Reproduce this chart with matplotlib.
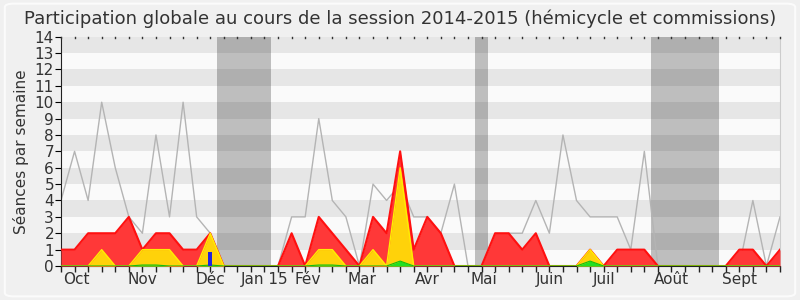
import matplotlib
matplotlib.use('Agg')
import matplotlib.pyplot as plt
from matplotlib.patches import FancyBboxPatch
import numpy as np

plt.rcParams['font.family'] = ['DejaVu Sans']

# weekly data, session 2014-2015
weeks = np.arange(54)
seances = [4, 7, 4, 10, 6, 3, 2, 8, 3, 10, 3, 2, 0, 0, 0, 0, 0, 3, 3, 9,
           4, 3, 0, 5, 4, 5, 3, 3, 2, 5, 0, 0, 0, 2, 2, 4, 2, 8, 4, 3,
           3, 3, 1, 7, 0, 0, 0, 0, 0, 0, 0, 4, 0, 3]
presences = [1, 1, 2, 2, 2, 3, 1, 2, 2, 1, 1, 2, 0, 0, 0, 0, 0, 2, 0, 3,
             2, 1, 0, 3, 2, 7, 1, 3, 2, 0, 0, 0, 2, 2, 1, 2, 0, 0, 0, 1,
             0, 1, 1, 1, 0, 0, 0, 0, 0, 0, 1, 1, 0, 1]
interventions = [0, 0, 0, 1, 0, 0, 1, 1, 1, 0, 0, 2, 0, 0, 0, 0, 0, 0, 0, 1,
                 1, 0, 0, 1, 0, 6, 0, 0, 0, 0, 0, 0, 0, 0, 0, 0, 0, 0, 0, 1,
                 0, 0, 0, 0, 0, 0, 0, 0, 0, 0, 0, 0, 0, 0]
questions = [0, 0, 0, 0, 0, 0, 0.06, 0.06, 0, 0, 0, 0.06, 0, 0, 0, 0, 0, 0, 0, 0.06,
             0.06, 0, 0, 0, 0, 0.3, 0, 0, 0, 0, 0, 0, 0, 0, 0, 0, 0, 0, 0, 0.3,
             0, 0, 0, 0, 0, 0, 0, 0, 0, 0, 0, 0, 0, 0]
rapport_week = [11]
rapport_val = [0.85]

vacances = [(11.5, 15.5), (30.5, 31.5), (43.5, 48.5)]

month_pos = [1.15, 6, 11, 15, 18.2, 22.2, 27, 31.2, 36, 40, 45, 50]
month_lbl = ['Oct', 'Nov', 'Déc', 'Jan 15', 'Fév', 'Mar', 'Avr', 'Mai',
             'Juin', 'Juil', 'Août', 'Sept']

fig = plt.figure(figsize=(8, 3), dpi=100, facecolor='#f0f0f0')
frame = FancyBboxPatch((0.006, 0.012), 0.988, 0.976, boxstyle='round,pad=0,rounding_size=0.012',
                       transform=fig.transFigure, facecolor='none', edgecolor='#fbfbfb',
                       lw=1.5, zorder=-10)
fig.patches.append(frame)

ax = fig.add_axes([0.07625, 0.1133, 0.89875, 0.7644])
ax.set_facecolor('#fafafa')

# stripes
for k in range(1, 14, 2):
    ax.axhspan(k, k + 1, color='#e6e6e6', lw=0, zorder=0)

# holidays
for a, b in vacances:
    ax.axvspan(a, b, color='black', alpha=0.24, lw=0, zorder=1)

ax.plot(weeks, seances, color='#b4b4b4', lw=1, zorder=2)

ax.fill_between(weeks, presences, color='#ff3838', lw=0, zorder=3)
ax.plot(weeks, presences, color='#ff1010', lw=1.5, zorder=3)
ax.fill_between(weeks, interventions, color='#ffd20a', lw=0, zorder=4)
ax.plot(weeks, interventions, color='#ffee00', lw=1, zorder=4)
ax.fill_between(weeks, questions, color='#22e022', lw=0, zorder=5)
ax.plot(weeks, questions, color='#10c010', lw=0.8, zorder=5)
ax.bar(rapport_week, rapport_val, width=0.3, color='#2222dd', zorder=6)

ax.set_xlim(0, 53)
ax.set_ylim(0, 14)
ax.set_yticks(range(15))
ax.set_xticks(weeks)
ax.set_xticklabels([])
ax.tick_params(axis='x', which='major', direction='out', length=4, width=1,
               color='#222222', top=False)
ax.tick_params(axis='y', direction='out', length=4, labelsize=11, labelcolor='#333333', pad=1)

xform = ax.get_xaxis_transform()
for p, lbl in zip(month_pos, month_lbl):
    ax.text(p, -0.025, lbl, transform=xform, ha='center', va='top',
            fontsize=11, color='#333333')

# little inward marks on top
for w in weeks:
    ax.plot([w, w], [14, 13.9], color='#333333', lw=1, zorder=7, clip_on=False)

ax.spines['top'].set_visible(False)
ax.spines['right'].set_color('#cccccc')
ax.spines['left'].set_color('#222222')
ax.spines['bottom'].set_color('#222222')

ax.set_ylabel('Séances par semaine', fontsize=11, color='#333333', labelpad=4)
fig.suptitle('Participation globale au cours de la session 2014-2015 (hémicycle et commissions)',
             fontsize=13, color='#333333', y=0.968)

plt.savefig('out.png', dpi=100, facecolor=fig.get_facecolor())
